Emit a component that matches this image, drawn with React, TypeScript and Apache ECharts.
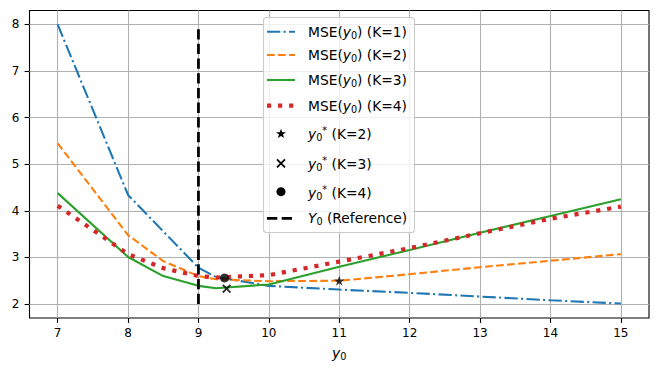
import { useEffect, useRef } from 'react';
import * as echarts from 'echarts';

// ---- data ----
const xs = [7, 8, 8.5, 9, 9.25, 10, 11, 12, 13, 14, 15];
const mseK1 = [8.0, 4.34, 3.56, 2.78, 2.58, 2.39, 2.31, 2.24, 2.16, 2.08, 2.01];
const mseK2 = [5.45, 3.48, 2.92, 2.6, 2.53, 2.49, 2.5, 2.64, 2.79, 2.93, 3.07];
const mseK3 = [4.38, 3.01, 2.6, 2.39, 2.34, 2.42, 2.8, 3.16, 3.53, 3.89, 4.25];
const mseK4 = [4.11, 3.07, 2.77, 2.6, 2.57, 2.62, 2.91, 3.2, 3.52, 3.83, 4.09];
const optK2 = [11, 2.5];
const optK3 = [9.4, 2.33];
const optK4 = [9.37, 2.56];
const refX = 9;
const refY = [2.0, 7.9];
const xTicks = [7, 8, 9, 10, 11, 12, 13, 14, 15];
const yTicks = [2, 3, 4, 5, 6, 7, 8];
const seriesNames = ['MSE(y0) (K=1)', 'MSE(y0) (K=2)', 'MSE(y0) (K=3)', 'MSE(y0) (K=4)'];
const kLabels = ['K=1', 'K=2', 'K=3', 'K=4'];

const FONT = '"DejaVu Sans", sans-serif';
const COLORS = ['#1f77b4', '#ff7f0e', '#2ca02c', '#d62728'];
const LW = 2.08;
const DASHES: any[] = [
  [13.3, 3.33, 2.08, 3.33],
  [7.7, 3.33],
  'solid',
  [4.17, 6.88],
];
const WIDTHS = [LW, LW, LW, 4.17];
const NB = '\u00a0';

const STAR =
  'path://M0,-1L0.2245,-0.309L0.951,-0.309L0.363,0.118L0.588,0.809L0,0.382L-0.588,0.809L-0.363,0.118L-0.951,-0.309L-0.2245,-0.309Z';
const XMARK =
  'path://M0,1.5L1.5,0L5,3.5L8.5,0L10,1.5L6.5,5L10,8.5L8.5,10L5,6.5L1.5,10L0,8.5L3.5,5Z';

export default function App() {
  const ref = useRef<HTMLDivElement>(null);
  useEffect(() => {
    const chart = echarts.init(ref.current!, null, { renderer: 'svg' });
    const mse = [mseK1, mseK2, mseK3, mseK4];

    const richBase = {
      n: { fontFamily: FONT, fontSize: 13.8, lineHeight: 17, color: '#000' },
      i: { fontFamily: FONT, fontSize: 13.8, lineHeight: 17, fontStyle: 'italic', color: '#000' },
      s: { fontFamily: FONT, fontSize: 9.7, lineHeight: 10, verticalAlign: 'bottom', color: '#000' },
      s0: { fontFamily: FONT, fontSize: 9.7, lineHeight: 9, verticalAlign: 'bottom', color: '#000' },
      sup: { fontFamily: FONT, fontSize: 9.7, lineHeight: 9, verticalAlign: 'top', color: '#000' },
      sp: { fontFamily: FONT, fontSize: 9.7, lineHeight: 11, verticalAlign: 'bottom', color: '#000' },
    };

    const lineRows = [31.7, 55, 80, 105.7];
    const markRows = [133.3, 163.3, 191.7];
    const refRow = 218.3;
    const hx1 = 267;
    const hx2 = 295;
    const tx = 308;

    const legend: any[] = [
      {
        type: 'rect',
        shape: { x: 263.5, y: 17.5, width: 151, height: 215, r: 3 },
        style: { fill: 'rgba(255,255,255,0.8)', stroke: '#cccccc', lineWidth: 1.1 },
        z: 100,
      },
    ];
    lineRows.forEach((y, k) => {
      legend.push({
        type: 'line',
        shape: { x1: hx1, y1: y, x2: hx2, y2: y },
        style: {
          stroke: COLORS[k],
          lineWidth: WIDTHS[k],
          lineDash: DASHES[k] === 'solid' ? null : DASHES[k],
        },
        z: 101,
      });
      legend.push({
        type: 'text',
        x: tx,
        y,
        style: {
          text: `{n|MSE(}{i|y}{s|0}{n|)${NB}(${kLabels[k]})}`,
          rich: richBase,
          verticalAlign: 'middle',
          align: 'left',
        },
        z: 101,
      });
    });
    const markSyms = [
      { type: 'star', k: 1 },
      { type: 'x', k: 2 },
      { type: 'circle', k: 3 },
    ];
    markSyms.forEach((m, idx) => {
      const y = markRows[idx];
      const cx = 281;
      if (m.type === 'circle') {
        legend.push({ type: 'circle', shape: { cx, cy: y, r: 4.5 }, style: { fill: '#000' }, z: 101 });
      } else if (m.type === 'x') {
        legend.push({ type: 'line', shape: { x1: cx - 4, y1: y - 4, x2: cx + 4, y2: y + 4 }, style: { stroke: '#000', lineWidth: 1.8 }, z: 101 });
        legend.push({ type: 'line', shape: { x1: cx - 4, y1: y + 4, x2: cx + 4, y2: y - 4 }, style: { stroke: '#000', lineWidth: 1.8 }, z: 101 });
      } else {
        const pts: number[][] = [];
        for (let j = 0; j < 10; j++) {
          const a = -Math.PI / 2 + (j * Math.PI) / 5;
          const r = j % 2 === 0 ? 5.2 : 2.1;
          pts.push([cx + r * Math.cos(a), y + 0.6 + r * Math.sin(a)]);
        }
        legend.push({ type: 'polygon', shape: { points: pts }, style: { fill: '#000' }, z: 101 });
      }
      legend.push({
        type: 'text',
        x: tx,
        y: y + 1,
        style: {
          text: `{i|y}{s0|0}{sup|*}{n|${NB}(${kLabels[m.k]})}`,
          rich: richBase,
          verticalAlign: 'middle',
          align: 'left',
        },
        z: 101,
      });
    });
    legend.push({
      type: 'line',
      shape: { x1: hx1, y1: refRow, x2: hx2, y2: refRow },
      style: { stroke: '#000', lineWidth: 2.78, lineDash: [10.3, 4.4] },
      z: 101,
    });
    legend.push({
      type: 'text',
      x: tx,
      y: refRow,
      style: {
        text: `{i|Y}{sp|0}{n|${NB}(Reference)}`,
        rich: richBase,
        verticalAlign: 'middle',
        align: 'left',
      },
      z: 101,
    });

    const series: any[] = [
      {
        type: 'line',
        data: [],
        silent: true,
        markLine: {
          silent: true,
          z: 1,
          symbol: ['none', 'none'],
          label: { show: false },
          lineStyle: { color: '#b0b0b0', width: 1.1, type: 'solid' },
          data: [...xTicks.map((v) => ({ xAxis: v })), ...yTicks.map((v) => ({ yAxis: v }))],
        },
      },
    ];
    mse.forEach((arr, k) => {
      series.push({
        type: 'line',
        name: seriesNames[k],
        data: xs.map((x, i) => [x, arr[i]]),
        showSymbol: false,
        symbol: 'none',
        lineStyle: { color: COLORS[k], width: WIDTHS[k], type: DASHES[k] },
        itemStyle: { color: COLORS[k] },
        z: 2,
      });
    });
    series.push({
      type: 'scatter',
      data: [optK2],
      symbol: STAR,
      symbolSize: [10.5, 10],
      itemStyle: { color: '#000' },
      z: 3,
    });
    series.push({
      type: 'scatter',
      data: [optK3],
      symbol: XMARK,
      symbolSize: 9,
      itemStyle: { color: '#000' },
      z: 3,
    });
    series.push({
      type: 'scatter',
      data: [optK4],
      symbol: 'circle',
      symbolSize: 9,
      itemStyle: { color: '#000' },
      z: 3,
    });
    series.push({
      type: 'line',
      data: refY.map((y) => [refX, y]),
      showSymbol: false,
      symbol: 'none',
      lineStyle: { color: '#000', width: 2.78, type: [10.3, 4.4] },
      z: 4,
    });

    chart.setOption({
      animation: false,
      backgroundColor: '#fff',
      grid: {
        left: 29.5,
        right: 9,
        top: 10.5,
        bottom: 54,
        show: true,
        borderColor: '#000',
        borderWidth: 1.1,
        backgroundColor: 'transparent',
        containLabel: false,
      },
      xAxis: {
        type: 'value',
        min: 6.6,
        max: 15.4,
        axisLine: { show: false },
        splitLine: { show: false },
        axisTick: { show: true, length: 4.9, customValues: xTicks, lineStyle: { color: '#000', width: 1.1 } },
        axisLabel: { customValues: xTicks, fontFamily: FONT, fontSize: 12, color: '#000', margin: 9 },
        name: '{i|y}{s|0}',
        nameLocation: 'middle',
        nameGap: 26,
        nameTextStyle: {
          rich: {
            i: { fontFamily: FONT, fontSize: 13.9, lineHeight: 17, fontStyle: 'italic', color: '#000' },
            s: { fontFamily: FONT, fontSize: 9.7, lineHeight: 10, verticalAlign: 'bottom', color: '#000' },
          },
        },
      },
      yAxis: {
        type: 'value',
        min: 1.7,
        max: 8.3,
        axisLine: { show: false },
        splitLine: { show: false },
        axisTick: { show: true, length: 4.9, customValues: yTicks, lineStyle: { color: '#000', width: 1.1 } },
        axisLabel: { customValues: yTicks, fontFamily: FONT, fontSize: 12, color: '#000', margin: 10 },
      },
      series,
      graphic: legend,
    });
    return () => chart.dispose();
  }, []);
  return (
    <div
      ref={ref}
      style={{ position: 'fixed', left: 0, top: 0, width: 658, height: 372, background: '#fff' }}
    />
  );
}
